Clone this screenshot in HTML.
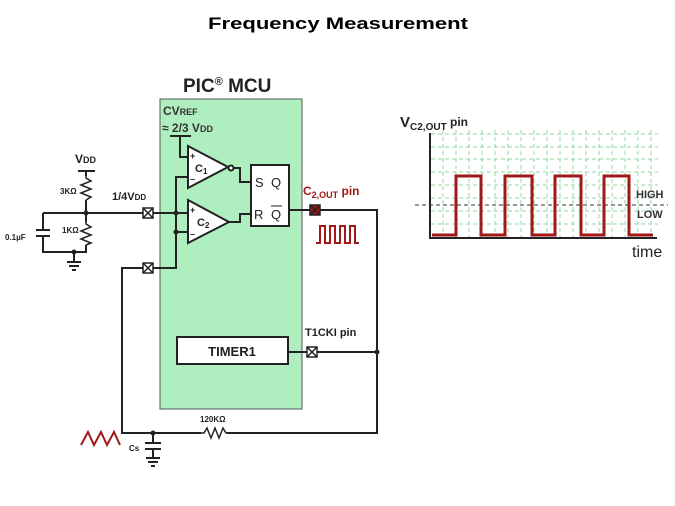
<!DOCTYPE html>
<html><head><meta charset="utf-8"><style>
html,body{margin:0;padding:0;background:#fff;}
svg{display:block;font-family:"Liberation Sans",Arial,sans-serif;}
</style></head><body>
<svg width="675" height="506" viewBox="0 0 675 506" xmlns="http://www.w3.org/2000/svg">
<text x="338" y="29" text-anchor="middle" font-size="17" font-weight="bold" textLength="260" lengthAdjust="spacingAndGlyphs">Frequency Measurement</text>

<!-- MCU box -->
<rect x="160" y="99" width="142" height="310" fill="#aeeebf" stroke="#555" stroke-width="1"/>
<text x="183" y="92" font-size="19" font-weight="bold" fill="#222">PIC<tspan font-size="11" dy="-7">®</tspan><tspan dy="7"> MCU</tspan></text>
<text x="163" y="115" font-size="12" font-weight="bold" fill="#333">CV<tspan font-size="9">REF</tspan></text>
<text x="162" y="132" font-size="12" font-weight="bold" fill="#333">≈ 2/3 V<tspan font-size="9">DD</tspan></text>

<g stroke="#222" stroke-width="2" fill="none">
<!-- ref -->
<line x1="170" y1="136" x2="191" y2="136"/>
<polyline points="180,136 180,157 188,157"/>
<!-- C1 -->
<polygon points="188,146 228,167 188,188" fill="#fff"/>
<circle cx="231" cy="168" r="2.5" fill="#fff"/>
<polyline points="234,168 240,168 240,182 251,182"/>
<!-- C2 -->
<polygon points="188,200 229,222 188,243" fill="#fff"/>
<polyline points="229,222 240,222 240,214 251,214"/>
<!-- vertical - inputs -->
<polyline points="188,177 176,177 176,268 153,268"/>
<line x1="176" y1="232" x2="188" y2="232"/>
<line x1="153" y1="213" x2="188" y2="213"/>
<!-- SR -->
<rect x="251" y="165" width="38" height="61" fill="#fff"/>
<line x1="289" y1="210" x2="310" y2="210"/>
<polyline points="320,210 377,210 377,433 122,433 122,268 143,268"/>
<line x1="288" y1="352" x2="307" y2="352"/>
<line x1="317" y1="352" x2="377" y2="352"/>
<!-- timer -->
<rect x="177" y="337" width="111" height="27" fill="#fff"/>
<!-- left network -->
<line x1="78" y1="171" x2="95" y2="171"/>
<line x1="86" y1="171" x2="86" y2="176"/>
<line x1="43" y1="213" x2="143" y2="213"/>
<line x1="86" y1="200" x2="86" y2="222"/>
<polyline points="86,245 86,252 43,252 43,236"/>
<line x1="43" y1="213" x2="43" y2="230"/>
<line x1="74" y1="252" x2="74" y2="262"/>
</g>
<g stroke="#222" stroke-width="1.5" fill="none">
<polyline points="86,176 86,178 91,181 81,185 91,189 81,193 91,197 86,200"/>
<polyline points="86,222 86,224 91,227 81,231 91,235 81,239 91,243 86,245"/>
<line x1="36" y1="230" x2="50" y2="230" stroke-width="2"/>
<line x1="36" y1="236" x2="50" y2="236" stroke-width="2"/>
<line x1="67" y1="262" x2="81" y2="262" stroke-width="2"/>
<line x1="69" y1="266" x2="79" y2="266" stroke-width="2"/>
<line x1="72" y1="270" x2="76" y2="270" stroke-width="2"/>
<!-- bottom -->
<line x1="145" y1="443" x2="161" y2="443" stroke-width="2"/>
<line x1="145" y1="449" x2="161" y2="449" stroke-width="2"/>
<line x1="153" y1="433" x2="153" y2="443" stroke-width="2"/>
<line x1="153" y1="449" x2="153" y2="458" stroke-width="2"/>
<line x1="146" y1="458" x2="160" y2="458" stroke-width="2"/>
<line x1="148" y1="462" x2="158" y2="462" stroke-width="2"/>
<line x1="151" y1="466" x2="155" y2="466" stroke-width="2"/>
</g>
<rect x="201" y="428" width="26" height="10" fill="#fff"/>
<polyline points="200,433 204,433 207,428 211,438 215,428 219,438 223,428 226,433 229,433" stroke="#222" stroke-width="1.5" fill="none"/>
<g fill="#222">
<circle cx="86" cy="213" r="2.5"/><circle cx="74" cy="252" r="2.5"/>
<circle cx="176" cy="213" r="2.5"/><circle cx="176" cy="232" r="2.5"/>
<circle cx="377" cy="352" r="2.5"/><circle cx="153" cy="433" r="2.5"/>
</g>
<!-- pins -->
<g stroke="#222" stroke-width="1.5">
<rect x="143" y="208" width="10" height="10" fill="#fff"/><path d="M143,208L153,218M153,208L143,218"/>
<rect x="143" y="263" width="10" height="10" fill="#fff"/><path d="M143,263L153,273M153,263L143,273"/>
<rect x="307" y="347" width="10" height="10" fill="#fff"/><path d="M307,347L317,357M317,347L307,357"/>
<rect x="310" y="205" width="10" height="10" fill="#a01818"/><path d="M310,205L320,215M320,205L310,215"/>
</g>
<!-- texts -->
<g font-weight="bold" fill="#222">
<text x="195" y="172" font-size="11">C<tspan font-size="8" dy="2">1</tspan></text>
<text x="197" y="226" font-size="11">C<tspan font-size="8" dy="2">2</tspan></text>
<text x="190" y="159" font-size="9">+</text><text x="190" y="182" font-size="9">–</text>
<text x="190" y="213" font-size="9">+</text><text x="190" y="237" font-size="9">–</text>
<text x="255" y="187" font-size="13" font-weight="normal">S</text>
<text x="271" y="187" font-size="13" font-weight="normal">Q</text>
<text x="254" y="219" font-size="13" font-weight="normal">R</text>
<text x="271" y="219" font-size="13" font-weight="normal">Q</text>
<line x1="271" y1="206" x2="282" y2="206" stroke="#222" stroke-width="1"/>
<text x="232" y="356" font-size="13" text-anchor="middle">TIMER1</text>
<text x="305" y="336" font-size="11">T1CKI pin</text>
<text x="75" y="163" font-size="12">V<tspan font-size="9">DD</tspan></text>
<text x="60" y="194" font-size="8">3KΩ</text>
<text x="62" y="233" font-size="8">1KΩ</text>
<text x="5" y="240" font-size="8">0.1µF</text>
<text x="112" y="200" font-size="11">1/4V<tspan font-size="8">DD</tspan></text>
<text x="200" y="422" font-size="8">120KΩ</text>
<text x="129" y="451" font-size="8">Cs</text>
<text x="303" y="195" font-size="12" fill="#a01818">C<tspan font-size="9" dy="3">2,OUT</tspan><tspan dy="-3"> pin</tspan></text>
</g>
<polyline points="316,243 320,243 320,226 325,226 325,243 330,243 330,226 335,226 335,243 340,243 340,226 345,226 345,243 350,243 350,226 355,226 355,243 359,243" stroke="#a01818" stroke-width="2" fill="none"/>
<polyline points="81,445 88,432 94,445 101,432 107,445 114,432 120,445" stroke="#a01818" stroke-width="2" fill="none"/>

<!-- chart -->
<g stroke="#8fd89f" stroke-width="1" stroke-dasharray="4,3">
<line x1="431" y1="134" x2="658" y2="134"/><line x1="431" y1="147" x2="658" y2="147"/>
<line x1="431" y1="159" x2="658" y2="159"/><line x1="431" y1="172" x2="658" y2="172"/>
<line x1="431" y1="185" x2="658" y2="185"/><line x1="431" y1="198" x2="658" y2="198"/>
<line x1="431" y1="211" x2="658" y2="211"/><line x1="431" y1="224" x2="658" y2="224"/>
<line x1="443" y1="130" x2="443" y2="237"/><line x1="456" y1="130" x2="456" y2="237"/>
<line x1="469" y1="130" x2="469" y2="237"/><line x1="482" y1="130" x2="482" y2="237"/>
<line x1="495" y1="130" x2="495" y2="237"/><line x1="508" y1="130" x2="508" y2="237"/>
<line x1="521" y1="130" x2="521" y2="237"/><line x1="534" y1="130" x2="534" y2="237"/>
<line x1="547" y1="130" x2="547" y2="237"/><line x1="560" y1="130" x2="560" y2="237"/>
<line x1="573" y1="130" x2="573" y2="237"/><line x1="586" y1="130" x2="586" y2="237"/>
<line x1="599" y1="130" x2="599" y2="237"/><line x1="612" y1="130" x2="612" y2="237"/>
<line x1="625" y1="130" x2="625" y2="237"/><line x1="638" y1="130" x2="638" y2="237"/>
<line x1="651" y1="130" x2="651" y2="237"/>
</g>
<polyline points="430,133 430,238 657,238" stroke="#222" stroke-width="2" fill="none"/>
<line x1="415" y1="205" x2="668" y2="205" stroke="#333" stroke-width="1" stroke-dasharray="4,3"/>
<polyline points="432,235 456,235 456,176 481,176 481,235 505,235 505,176 532,176 532,235 555,235 555,176 581,176 581,235 604,235 604,176 629,176 629,235 653,235" stroke="#a01818" stroke-width="3" fill="none"/>
<text x="400" y="127" font-size="15" font-weight="bold" fill="#222">V<tspan font-size="10" dy="3">C2,OUT</tspan><tspan font-size="12" dy="-4"> pin</tspan></text>
<text x="636" y="198" font-size="11" font-weight="bold" fill="#333">HIGH</text>
<text x="637" y="218" font-size="11" font-weight="bold" fill="#333">LOW</text>
<text x="632" y="257" font-size="16" fill="#222">time</text>
</svg>
</body></html>
